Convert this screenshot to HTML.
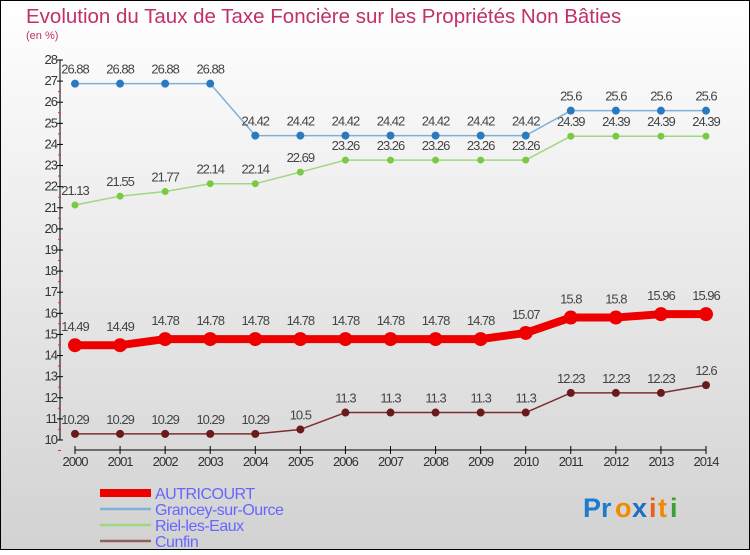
<!DOCTYPE html>
<html><head><meta charset="utf-8"><style>
html,body{margin:0;padding:0}
body{width:750px;height:550px;overflow:hidden;font-family:"Liberation Sans",sans-serif}
svg text{font-family:"Liberation Sans",sans-serif}
</style></head><body>
<svg id="chart" width="750" height="550" xmlns="http://www.w3.org/2000/svg">
<defs><linearGradient id="bg" x1="0" y1="0" x2="0" y2="1"><stop offset="0" stop-color="#ffffff"/><stop offset="1" stop-color="#d2d2d2"/></linearGradient></defs>
<rect x="0.5" y="0.5" width="749" height="549" fill="url(#bg)" stroke="#000"/>
<text x="26" y="23" font-size="20.5" fill="#c0306a">Evolution du Taux de Taxe Foncière sur les Propriétés Non Bâties</text>
<text x="26" y="39" font-size="11" fill="#c0306a">(en %)</text>
<g id="axes"></g>
<g id="series"></g>
<g id="legend"></g>
<g font-size="27" font-weight="bold">
<text x="583" y="517" fill="#1e7bd0">Pr</text><text x="615" y="517" fill="#f08a00">o</text><text x="632" y="517" fill="#1e6fc0">x</text><text x="649" y="517" fill="#e8601c">i</text><text x="658" y="517" fill="#f08a00">t</text><text x="670" y="517" fill="#3aa030">i</text>
</g>
</svg>
<script>
const years = [2000,2001,2002,2003,2004,2005,2006,2007,2008,2009,2010,2011,2012,2013,2014];
const autricourt = [14.49,14.49,14.78,14.78,14.78,14.78,14.78,14.78,14.78,14.78,15.07,15.8,15.8,15.96,15.96];
const grancey = [26.88,26.88,26.88,26.88,24.42,24.42,24.42,24.42,24.42,24.42,24.42,25.6,25.6,25.6,25.6];
const riel = [21.13,21.55,21.77,22.14,22.14,22.69,23.26,23.26,23.26,23.26,23.26,24.39,24.39,24.39,24.39];
const cunfin = [10.29,10.29,10.29,10.29,10.29,10.5,11.3,11.3,11.3,11.3,11.3,12.23,12.23,12.23,12.6];
const yTicks = [10,11,12,13,14,15,16,17,18,19,20,21,22,23,24,25,26,27,28];
const seriesNames = ["AUTRICOURT","Grancey-sur-Ource","Riel-les-Eaux","Cunfin"];

const NS="http://www.w3.org/2000/svg";
const X0=75,X1=706,Y10=440,Y28=60;
function xs(i){return X0+(X1-X0)*i/(years.length-1);}
function ys(v){return Y10-(v-10)*(Y10-Y28)/18;}
function mk(tag,attrs,parent){const e=document.createElementNS(NS,tag);for(const k in attrs)e.setAttribute(k,attrs[k]);parent.appendChild(e);return e;}
const axes=document.getElementById('axes'),ser=document.getElementById('series'),leg=document.getElementById('legend');

const yaxis=mk('line',{x1:60,y1:Y28,x2:60,y2:Y10,stroke:'#000','stroke-width':1},axes);


yTicks.forEach(t=>{
  const y=ys(t);
  mk('line',{x1:57,y1:y,x2:63,y2:y,stroke:'#000'},axes);
  mk('line',{x1:58,y1:y+10.5,x2:61,y2:y+10.5,stroke:'#e03030'},axes).setAttribute('visibility',t<28?'visible':'hidden');
  const tx=mk('text',{x:57,y:y+4,'font-size':13,fill:'#333','text-anchor':'end','letter-spacing':'-1'},axes);
  tx.textContent=t;
  
  
});
const xaxis=mk('line',{x1:X0,y1:450,x2:X1,y2:450,stroke:'#000','stroke-width':1},axes);


years.forEach((yr,i)=>{
  const x=xs(i);
  mk('line',{x1:x,y1:446,x2:x,y2:454,stroke:'#000'},axes);
  const tx=mk('text',{x:x,y:466,'font-size':13,fill:'#333','text-anchor':'middle','letter-spacing':'-1'},axes);
  tx.textContent=yr;
  
  
});

function drawSeries(vals,name,color,lineW,lineColor,r,labelOff){
  const g=mk('g',{},ser);
  
  
  const pts=vals.map((v,i)=>xs(i)+','+ys(v)).join(' ');
  mk('polyline',{points:pts,fill:'none',stroke:lineColor,'stroke-width':lineW,'stroke-linejoin':'round'},g);
  vals.forEach((v,i)=>{
    const c=mk('circle',{cx:xs(i),cy:ys(v),r:r,fill:color},g);
    
    
    const t=mk('text',{x:xs(i),y:ys(v)-labelOff,'font-size':13,fill:'#444','text-anchor':'middle','letter-spacing':'-1'},g);
    t.textContent=v;
    
    
  });
}
drawSeries(cunfin,'cunfin','#6a1a1a',1.5,'#7a3030',4,10);
drawSeries(riel,'riel-les-eaux','#7ac943',1.5,'#a0d880',3.5,10);
drawSeries(grancey,'grancey-sur-ource','#2a7ac0',1.5,'#80b0d8',4,10);
drawSeries(autricourt,'autricourt','#ee0000',8,'#ee0000',7,14);

const legColors=['#ee0000','#80b0d8','#a0d880','#906060'];
const legW=[8,2.5,2.5,2.5];
seriesNames.forEach((n,i)=>{
  const y=492+i*16;
  const g=mk('g',{},leg);
  
  
  mk('line',{x1:100,y1:y+1,x2:151,y2:y+1,stroke:legColors[i],'stroke-width':legW[i]},g);
  const t=mk('text',{x:155,y:y+7,'font-size':16,fill:'#6666ff','letter-spacing':'-0.5'},g);
  t.textContent=n;
});
</script>
</body></html>
